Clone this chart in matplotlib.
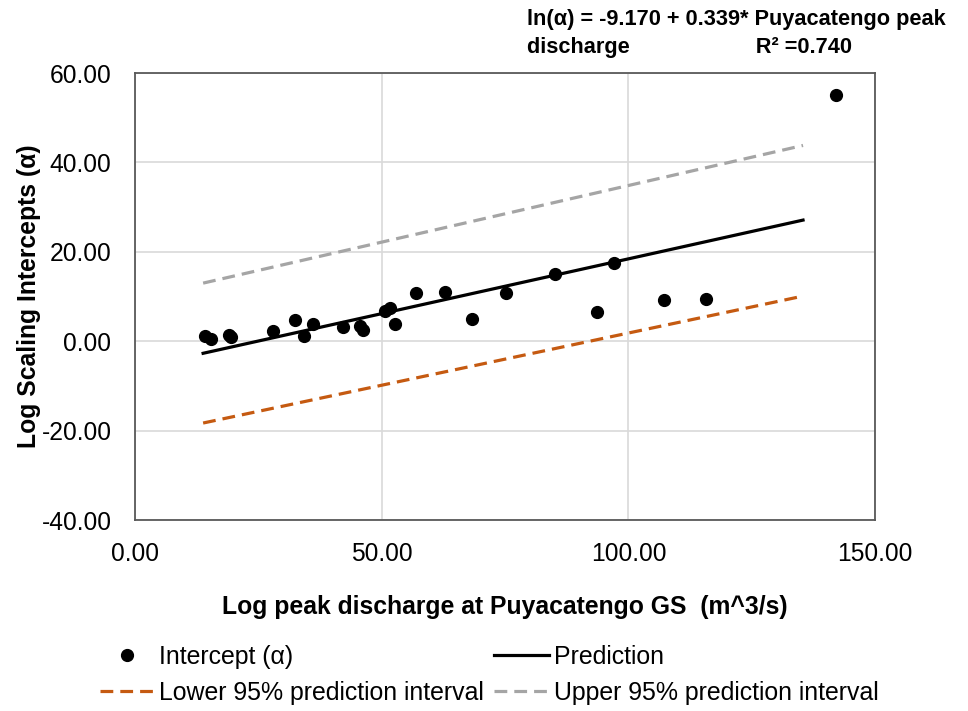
import matplotlib.pyplot as plt

plt.rcParams['font.family'] = ['Liberation Sans', 'DejaVu Sans']

# observed intercepts
peak_q = [14.2, 15.3, 19.0, 19.4, 28.0, 32.4, 34.3, 36.1, 42.2, 45.6, 46.3,
          50.7, 51.6, 52.7, 57.0, 62.8, 68.3, 75.2, 85.1, 93.6, 97.0,
          107.2, 115.7, 142.1]
intercept = [1.2, 0.5, 1.4, 0.9, 2.3, 4.7, 1.1, 3.8, 3.2, 3.4, 2.6,
             6.8, 7.5, 3.9, 10.7, 11.0, 4.9, 10.8, 15.0, 6.5, 17.4,
             9.2, 9.5, 55.1]

# fitted line and 95% prediction interval end points
line_x = [13.8, 135.4]
pred_y = [-2.7, 27.1]
lower_y = [-18.3, 10.1]
upper_y = [13.0, 43.8]

xticks = [0, 50, 100, 150]
yticks = [-40, -20, 0, 20, 40, 60]

fig = plt.figure(figsize=(9.68, 7.11), dpi=100)
ax = fig.add_axes([0.1395, 0.2686, 0.7645, 0.6287])

ax.plot(peak_q, intercept, 'o', color='black', ms=8.5, label='Intercept (α)', zorder=4)
ax.plot(line_x, pred_y, '-', color='black', lw=2.3, label='Prediction', zorder=3)
ax.plot(line_x, lower_y, '--', color='#C55A11', lw=2.3, dashes=(4, 2.2),
        label='Lower 95% prediction interval', zorder=3)
ax.plot(line_x, upper_y, '--', color='#A5A5A5', lw=2.3, dashes=(4, 2.2),
        label='Upper 95% prediction interval', zorder=3)

ax.set_xlim(0, 150)
ax.set_ylim(-40, 60)
ax.set_xticks(xticks)
ax.set_yticks(yticks)
ax.set_xticklabels([f'{v:.2f}' for v in xticks])
ax.set_yticklabels([f'{v:.2f}' for v in yticks])
ax.tick_params(axis='y', length=0, labelsize=17.7, pad=17)
ax.tick_params(axis='x', length=0, labelsize=17.7, pad=15.5)
ax.grid(True, color='#D9D9D9', lw=1.2)
ax.set_axisbelow(True)
for s in ax.spines.values():
    s.set_color('#595959')
    s.set_linewidth(1.3)

ax.set_xlabel('Log peak discharge at Puyacatengo GS  (m^3/s)', fontsize=17.8,
              fontweight='bold', labelpad=21)
ax.set_ylabel('Log Scaling Intercepts (α)', fontsize=17.8, fontweight='bold', labelpad=0)

fig.text(0.544, 0.987, 'ln(α) = -9.170 + 0.339* Puyacatengo peak\ndischarge                     R² =0.740',
         fontsize=15.7, fontweight='bold', va='top', ha='left', linespacing=1.45)

h, l = ax.get_legend_handles_labels()
order = [0, 2, 1, 3]
fig.legend([h[i] for i in order], [l[i] for i in order], ncol=2, frameon=False,
           loc='upper left', bbox_to_anchor=(0.103, 0.093), fontsize=17.9,
           handlelength=2.2, handletextpad=0.2, columnspacing=0.4,
           labelspacing=0.48, borderaxespad=0, borderpad=0)

fig.savefig('out.png', dpi=100)
